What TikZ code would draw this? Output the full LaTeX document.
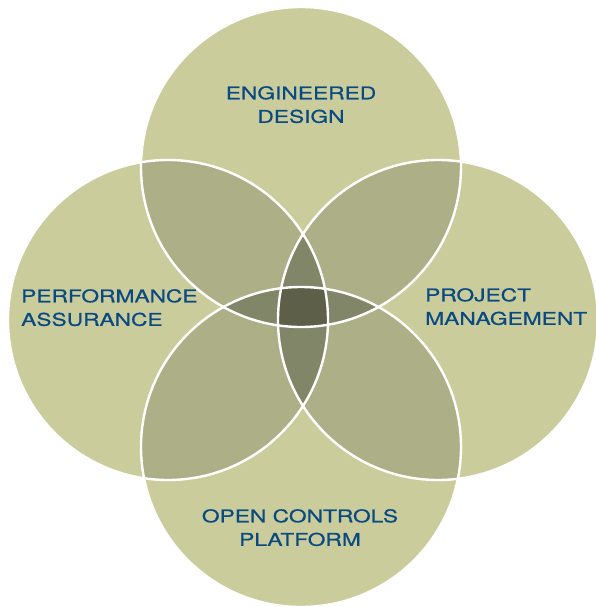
\documentclass[tikz,border=0pt]{standalone}
\usepackage{fontspec}
\newfontfamily\labelfont[FakeStretch=1.3,FakeBold=0.7]{TeX Gyre Heros}
\definecolor{cone}{RGB}{203,204,155}
\definecolor{ctwo}{RGB}{173,175,134}
\definecolor{cthree}{RGB}{130,134,104}
\definecolor{cfour}{RGB}{93,95,72}
\definecolor{labelblue}{RGB}{10,74,130}
\begin{document}
\begin{tikzpicture}[x=1pt,y=-1pt,
  lbl/.style={inner sep=0pt,text=labelblue,font={\labelfont\fontsize{17.5}{23.5}\selectfont}},
  ring/.style={draw=white,line width=2.4pt}]
\useasboundingbox (0,0) rectangle (596,607);
\coordinate (T) at (301,167);
\coordinate (B) at (301,447);
\coordinate (L) at (168,320);
\coordinate (R) at (438,320);
\def\rr{160pt}
% single
\foreach \c in {T,B,L,R} \fill[cone] (\c) circle[radius=\rr];
% pairs
\foreach \a/\b in {T/L,T/R,B/L,B/R,L/R,T/B}{
  \begin{scope}
    \clip (\a) circle[radius=\rr];
    \fill[ctwo] (\b) circle[radius=\rr];
  \end{scope}}
% triples
\foreach \a/\b/\c in {T/L/R,B/L/R,L/T/B,R/T/B}{
  \begin{scope}
    \clip (\a) circle[radius=\rr];
    \clip (\b) circle[radius=\rr];
    \fill[cthree] (\c) circle[radius=\rr];
  \end{scope}}
% quadruple
\begin{scope}
  \clip (T) circle[radius=\rr];
  \clip (B) circle[radius=\rr];
  \clip (L) circle[radius=\rr];
  \fill[cfour] (R) circle[radius=\rr];
\end{scope}
% outlines
\foreach \c in {T,B,L,R} \draw[ring] (\c) circle[radius=\rr];
% labels
\node[lbl,align=center,anchor=north] (ed) at (301,86) {ENGINEERED\\DESIGN};
\node[lbl,align=left,anchor=north west] (pa) at (21,289) {PERFORMANCE\\ASSURANCE};
\node[lbl,align=left,anchor=north west] (pm) at (425,288) {PROJECT\\MANAGEMENT};
\node[lbl,align=center,anchor=north] (oc) at (300,509) {OPEN CONTROLS\\PLATFORM};
\end{tikzpicture}
\end{document}
